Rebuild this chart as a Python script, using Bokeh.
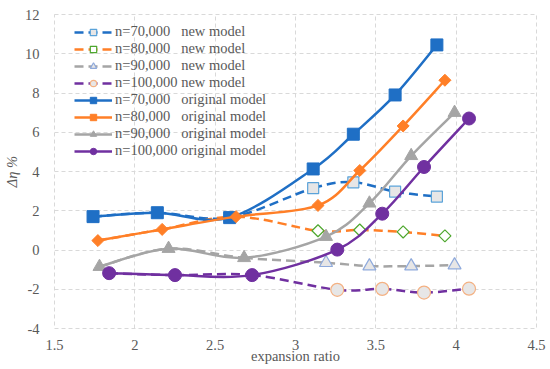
import math
from bokeh.plotting import figure
from bokeh.models import Range1d, FixedTicker, Legend, LegendItem
from bokeh.embed import file_html
from bokeh.resources import INLINE

# ---------------- data ----------------
x_70 = [1.74, 2.14, 2.59, 3.11, 3.36, 3.62, 3.88]
orig_70 = [1.70, 1.90, 1.65, 4.13, 5.90, 7.90, 10.45]
new_70 = [1.70, 1.90, 1.65, 3.15, 3.45, 2.97, 2.72]

x_80 = [1.77, 2.17, 2.63, 3.14, 3.40, 3.67, 3.93]
orig_80 = [0.48, 1.05, 1.70, 2.27, 4.05, 6.32, 8.65]
new_80 = [0.48, 1.05, 1.70, 0.98, 1.02, 0.92, 0.72]

x_90 = [1.78, 2.21, 2.68, 3.19, 3.46, 3.72, 3.99]
orig_90 = [-0.85, 0.07, -0.40, 0.68, 2.38, 4.80, 7.00]
new_90 = [-0.85, 0.07, -0.40, -0.65, -0.82, -0.82, -0.77]

x_100 = [1.84, 2.25, 2.73, 3.26, 3.54, 3.80, 4.08]
orig_100 = [-1.18, -1.28, -1.28, 0.02, 1.85, 4.23, 6.70]
new_100 = [-1.18, -1.28, -1.28, -2.03, -1.98, -2.17, -1.97]

x_ticks = [1.5, 2, 2.5, 3, 3.5, 4, 4.5]
x_labels = ["1.5", "2", "2.5", "3", "3.5", "4", "4.5"]
y_ticks = [-4, -2, 0, 2, 4, 6, 8, 10, 12]
y_labels = ["-4", "-2", "0", "2", "4", "6", "8", "10", "12"]

labels = ["n=70,000", "n=80,000", "n=90,000", "n=100,000"]

# ---------------- styles ----------------
FONT = "Liberation Serif"
FS = "14.5px"
TXT = "#595959"
GRID = "#D9D9D9"
colors = ["#1F6FC5", "#FF7F27", "#A5A5A5", "#7030A0"]
orig_marker = [("square", 0, 12), ("square", math.pi / 4, 8.5), ("triangle", 0, 13), ("circle", 0, 13)]
new_marker = [("square", 0, 11, "#E7E6E6", "#5BA3D9"),
              ("square", math.pi / 4, 8.5, "#FFFFFF", "#4EA72E"),
              ("triangle", 0, 13, "#E7E6E6", "#8FAADC"),
              ("circle", 0, 13, "#E7E6E6", "#F4B183")]

p = figure(frame_width=482, frame_height=314, output_backend="svg", toolbar_location=None,
           x_range=Range1d(1.5, 4.5), y_range=Range1d(-4, 12),
           min_border_left=10, min_border_top=14, min_border_right=14, min_border_bottom=4)
p.background_fill_color = "white"
p.border_fill_color = "white"
p.outline_line_color = GRID
p.outline_line_dash = "4 3"
p.outline_line_width = 1

for ax in (p.xaxis[0], p.yaxis[0]):
    ax.axis_line_color = None
    ax.major_tick_line_color = None
    ax.minor_tick_line_color = None
    ax.major_label_text_font = FONT
    ax.major_label_text_font_size = FS
    ax.major_label_text_color = TXT
    ax.axis_label_text_font = FONT
    ax.axis_label_text_font_size = FS
    ax.axis_label_text_color = TXT

p.xaxis.ticker = FixedTicker(ticks=x_ticks)
p.yaxis.ticker = FixedTicker(ticks=y_ticks)
p.xaxis.major_label_overrides = {t: s for t, s in zip(x_ticks, x_labels)}
p.yaxis.major_label_overrides = {t: s for t, s in zip(y_ticks, y_labels)}
p.xaxis.axis_label = "expansion ratio"
p.xaxis.axis_label_standoff = -5
p.xaxis.major_label_standoff = 5
p.xaxis.axis_label_text_font_style = "normal"
p.yaxis.axis_label = "Δη %"
p.yaxis.axis_label_text_font_style = "italic"
p.yaxis.major_label_standoff = 9
p.yaxis.axis_label_standoff = 2

for g in (p.xgrid[0], p.ygrid[0]):
    g.grid_line_color = GRID
    g.grid_line_dash = "4 3"
    g.grid_line_width = 1


def bezier_segments(xs, ys):
    n = len(xs)
    X = [xs[0]] + list(xs) + [xs[-1]]
    Y = [ys[0]] + list(ys) + [ys[-1]]
    d = dict(x0=[], y0=[], x1=[], y1=[], cx0=[], cy0=[], cx1=[], cy1=[])
    for i in range(1, n):
        d["x0"].append(X[i]); d["y0"].append(Y[i])
        d["x1"].append(X[i + 1]); d["y1"].append(Y[i + 1])
        d["cx0"].append(X[i] + (X[i + 1] - X[i - 1]) / 6)
        d["cy0"].append(Y[i] + (Y[i + 1] - Y[i - 1]) / 6)
        d["cx1"].append(X[i + 1] - (X[i + 2] - X[i]) / 6)
        d["cy1"].append(Y[i + 1] - (Y[i + 2] - Y[i]) / 6)
    return d


xs_all = [x_70, x_80, x_90, x_100]
orig_all = [orig_70, orig_80, orig_90, orig_100]
new_all = [new_70, new_80, new_90, new_100]

items = []
# new model series (drawn first, underneath)
for k in range(4):
    xs, ys = xs_all[k], new_all[k]
    bz = p.bezier(line_color=colors[k], line_width=2.5, line_dash="9 5", **bezier_segments(xs, ys))
    m, ang, sz, fc, lc = new_marker[k]
    sc = p.scatter(xs[3:], ys[3:], marker=m, angle=ang, size=sz, fill_color=fc, line_color=lc, line_width=1.2)
    items.append(LegendItem(label=labels[k] + "\u00a0\u00a0\u00a0new model" if k < 3 else labels[k] + " new model",
                            renderers=[bz, sc]))

for k in range(4):
    xs, ys = xs_all[k], orig_all[k]
    bz = p.bezier(line_color=colors[k], line_width=2.5, **bezier_segments(xs, ys))
    m, ang, sz = orig_marker[k]
    sc = p.scatter(xs, ys, marker=m, angle=ang, size=sz, fill_color=colors[k], line_color=colors[k])
    items.append(LegendItem(label=labels[k] + "\u00a0\u00a0\u00a0original model" if k < 3 else labels[k] + " original model",
                            renderers=[bz, sc]))

legend = Legend(items=items, location=(20, 169), padding=0, margin=0, spacing=0,
                glyph_width=38, glyph_height=16, label_height=16, label_standoff=3,
                label_text_font=FONT, label_text_font_size=FS, label_text_color=TXT,
                background_fill_alpha=0, border_line_color=None)
p.add_layout(legend, "center")

open("out.html", "w").write(file_html(p, INLINE))
